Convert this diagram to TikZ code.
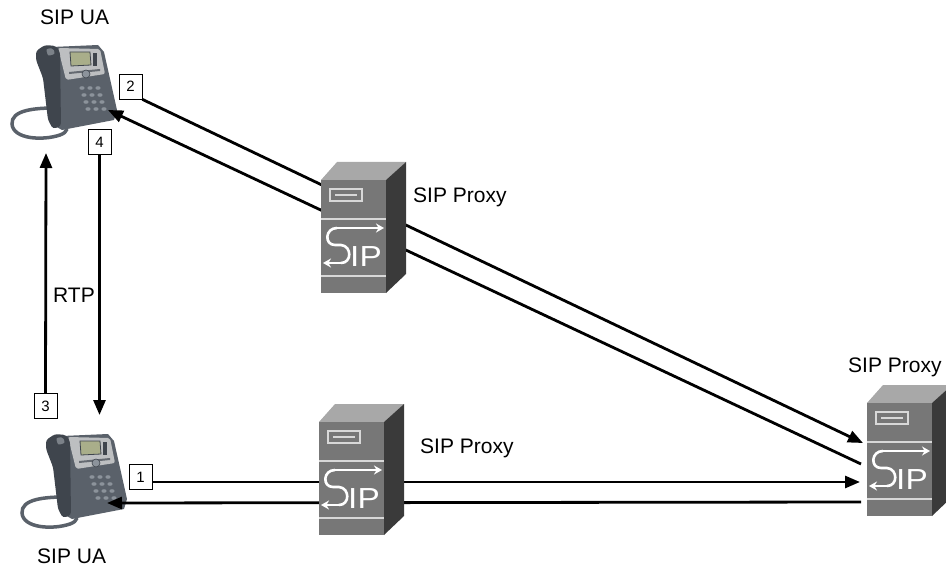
\documentclass[tikz,border=0pt]{standalone}
\usepackage{fontspec}
\setmainfont{Liberation Sans}
\usetikzlibrary{arrows.meta}
\definecolor{srvfront}{HTML}{777777}
\definecolor{srvtop}{HTML}{A8A8A8}
\definecolor{srvside}{HTML}{3A3A3A}
\definecolor{srvline}{HTML}{D8D8D8}
\definecolor{phbody}{HTML}{5A616A}
\definecolor{phdark}{HTML}{3F454D}
\definecolor{phsilver}{HTML}{BDBFC1}
\definecolor{phlcd}{HTML}{A9AE8A}
\definecolor{phkey}{HTML}{8C939B}
\newcommand\sipserver[2]{%
\begin{scope}[shift={#1}, scale=#2]
\fill[srvtop] (0,0) -- (16,-18) -- (85,-18) -- (65,0) -- cycle;
\fill[srvside] (65,0) -- (85,-18) -- (85,94) -- (65,113) -- cycle;
\fill[srvfront] (0,0) rectangle (65,113);
\draw[srvline, line width=1.3pt] (9,9) rectangle (41,21);
\draw[srvline, line width=1.3pt] (14,15) -- (36,15);
\draw[srvline, line width=1.3pt] (0,39) -- (65,39);
\draw[srvline, line width=1.3pt] (0,96) -- (65,96);
\draw[white, line width=2.6pt, -{Stealth[length=8pt,width=9pt]}] (16,48) -- (63,48);
\draw[white, line width=2.6pt] (16,48) .. controls (4,48) and (3,65) .. (14,65) -- (20,65) .. controls (31,66) and (31,83) .. (20,83);
\draw[white, line width=2.6pt, -{Stealth[length=8pt,width=9pt]}] (22,83) -- (2,83);
\node[white, anchor=base west, inner sep=0pt, xscale=1.15, font=\fontsize{29}{29}\selectfont] at (29,86) {IP};
\end{scope}}
\newcommand\deskphone[1]{%
\begin{scope}[shift={#1}]
\draw[phbody, line width=3.5pt, line cap=round] (55,108) .. controls (35,108) and (11,110) .. (12,124) .. controls (13,139) and (42,141) .. (60,135) .. controls (68,132) and (68,128) .. (64,124);
\fill[phbody] (52,47) -- (98,45) -- (104,52) -- (117,110) -- (114,120) -- (62,130) -- (55,126) -- cycle;
\fill[phsilver, rounded corners=2pt] (58,48) -- (100,49) -- (105,74) -- (66,80) -- cycle;
\fill[phlcd, draw=phdark, line width=0.8pt] (70,52) -- (90,52) -- (91,65) -- (71,66) -- cycle;
\fill[phdark] (93,53) rectangle (97,66);
\fill[phdark!80] (69,72) -- (100,69) -- (100,71) -- (69,74) -- cycle;
\fill[phkey, draw=phdark, line width=0.6pt] (86,74) circle (4);
\foreach \r in {0,1,2,3}{\foreach \c in {0,1,2}{
  \fill[phkey] ({82+\c*8+\r*2},{88+\r*7}) ellipse (2.6 and 1.8);}}
\fill[phdark, rounded corners=3pt] (36,51) -- (45,45) -- (56,46) -- (60,52) -- (61,126) -- (53,129) -- (48,120) -- (43,78) -- (36,60) -- cycle;
\fill[phbody!80!white, rounded corners=2pt] (46,49) -- (53,48) -- (55,54) -- (48,56) -- cycle;
\end{scope}}
\tikzset{
  numbox/.style={draw, line width=0.8pt, minimum width=23pt, minimum height=25pt, inner sep=0pt, fill=white, font=\fontsize{15}{15}\selectfont},
  lbl/.style={anchor=base west, inner sep=0pt, font=\fontsize{21}{21}\selectfont},
  msg/.style={line width=2.8pt},
  arr/.style={msg, -{Triangle[length=15pt,width=12pt]}}
}
\begin{document}
\begin{tikzpicture}[x=1pt,y=-1pt]
\useasboundingbox (0,0) rectangle (946,567);
% phones
\deskphone{(0,0)}
\deskphone{(10,389)}
% labels
\node[lbl] (uatop) at (40,25) {SIP UA};
\node[lbl] (uabot) at (37,563) {SIP UA};
\node[lbl] (rtp) at (53,302) {RTP};
\node[lbl] (px1) at (413,203) {SIP Proxy};
\node[lbl] (px2) at (420,453) {SIP Proxy};
\node[lbl] (px3) at (848,372) {SIP Proxy};
% number boxes
\node[numbox] (b2) at (130.5,86.5) {2};
\node[numbox] (b4) at (99.5,142) {4};
\node[numbox] (b3) at (45.5,406) {3};
\node[numbox] (b1) at (140.5,477) {1};
% endpoints
\coordinate (ph1in) at (108,110);
\coordinate (ph2in) at (107,503);
\coordinate (ph1up) at (46,153);
\coordinate (ph2dn) at (99.5,415);
\coordinate (s3a) at (863,443);
\coordinate (s3b) at (861,464);
\coordinate (s3c) at (860,482);
\coordinate (s3d) at (861,502);
% connectors
\draw[arr] (b2.south east) -- (s3a);
\draw[arr] (s3b) -- (ph1in);
\draw[arr] (b1.east |- s3c) -- (s3c);
\draw[arr] (s3d) -- (ph2in);
\draw[arr] (b3.north) -- (ph1up);
\draw[arr] (b4.south) -- (ph2dn);
% servers on top
\sipserver{(321,180)}{1}
\sipserver{(319,422)}{1}
\begin{scope}
\clip (0,0) rectangle (946,567);
\sipserver{(867,403)}{1}
\end{scope}
\end{tikzpicture}
\end{document}
